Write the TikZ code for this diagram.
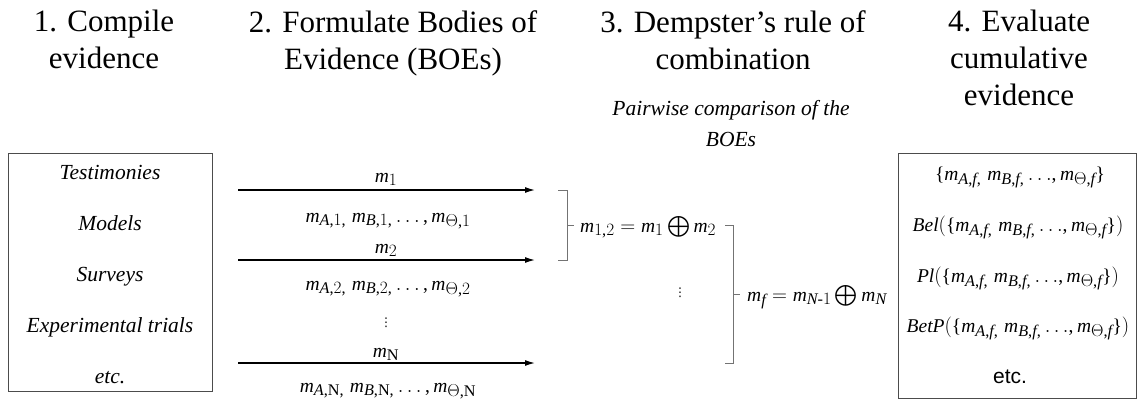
\documentclass[tikz,border=0pt]{standalone}
\usepackage{amsmath}
\usepackage{fontspec}
\setmainfont{Liberation Serif}
\newfontfamily\arialfont{Liberation Sans}
\newfontfamily\dejavu{DejaVu Sans}
\usepackage[italic]{mathastext}
\usetikzlibrary{arrows.meta}
\newcommand{\cumset}{\{m_{A,f,}\; m_{B,f,}\,{\ldots},m_{\Theta,f}\}}
\newcommand{\boe}[1]{m_{A,#1,}\; m_{B,#1,}\,{\ldots}\,,m_{\Theta,#1}}

\begin{document}
\begin{tikzpicture}[
        x=1pt, y=-1pt,
        heading/.style={anchor=north, align=center, inner sep=0pt, font=\fontsize{31}{37}\selectfont},
        item/.style={anchor=base, inner sep=0pt, font=\fontsize{21.5}{26}\selectfont\itshape},
        mlabel/.style={anchor=base, inner sep=0pt, font=\fontsize{19.5}{24}\selectfont},
        dots/.style={anchor=center, inner sep=0pt, font=\fontsize{12}{14}\selectfont\dejavu},
        evbox/.style={draw=black!70, line width=0.9pt, inner sep=0pt},
        flow/.style={-{Latex[length=10pt,width=6pt]}, line width=1.3pt},
        brace/.style={draw=black!55, line width=0.9pt}
    ]
    \useasboundingbox (0,0) rectangle (1139,401);

    % Headings
    \node[heading] (h1) at (104,10) {1. Compile\\evidence};
    \node[heading] (h2) at (393,10) {2. Formulate Bodies of\\Evidence (BOEs)};
    \node[heading] (h3) at (733,10) {3. Dempster’s rule of\\combination};
    \node[heading] (h4) at (1019,10) {4. Evaluate\\cumulative\\evidence};
    \node[heading, font=\fontsize{21.5}{31}\selectfont\itshape] (h3sub) at (731,100) {Pairwise comparison of the\\BOEs};

    % Left box - sources of evidence
    \node[evbox, minimum width=204pt, minimum height=238pt] (src) at (110,272) {};
    \foreach \txt [count=\i from 0] in {Testimonies, Models, Surveys, Experimental trials, etc.}
        \node[item] (src\i) at (110,{179+51*\i}) {\txt};

    % Bodies of evidence
    \foreach \k/\yy in {1/190, 2/260, N/363} {
        \coordinate (s\k) at (238,\yy);
        \coordinate (e\k) at (535,\yy);
        \draw[flow] (s\k) -- (e\k);
    }
    \node[mlabel] (top1) at (386,182) {$m_1$};
    \node[mlabel] (bot1) at (388,222) {$\boe{1}$};
    \node[mlabel] (top2) at (386,253) {$m_2$};
    \node[mlabel] (bot2) at (388,290) {$\boe{2}$};
    \node[dots] (dotsB) at (386,323) {⋮};
    \node[mlabel] (topN) at (386,357) {$m_\mathrm{N}$};
    \node[mlabel] (botN) at (388,392) {$\boe{\mathrm{N}}$};

    % Combination
    \coordinate (c1t) at (558,190);
    \coordinate (c1b) at (558,260);
    \coordinate (c1m) at (567,225);
    \draw[brace] (c1t) -- ++(9,0) |- (c1b);
    \draw[brace] (c1m) -- ++(7,0) coordinate (c1x);
    \node[mlabel, anchor=base west] (m12) at (580,232) {$m_{1,2} = m_1 \bigoplus m_2$};
    \node[dots] (dotsC) at (680,293) {⋮};
    \coordinate (c2t) at (725,225);
    \coordinate (c2b) at (725,363);
    \coordinate (c2m) at (733,294);
    \draw[brace] (c2t) -- ++(8,0) |- (c2b);
    \draw[brace] (c2m) -- ++(7,0) coordinate (c2x);
    \node[mlabel, anchor=base west] (mf) at (747,301) {$m_f = m_{N\text{-}1} \bigoplus m_N$};

    % Right box - cumulative evidence
    \node[evbox, minimum width=238pt, minimum height=245pt] (res) at (1017,275.5) {};
    \node[mlabel] (res0) at (1020,180) {$\cumset$};
    \node[mlabel] (res1) at (1018,231) {\textit{Bel}$(\cumset)$};
    \node[mlabel] (res2) at (1018,282) {\textit{Pl}$(\cumset)$};
    \node[mlabel] (res3) at (1018,332) {\textit{BetP}$(\cumset)$};
    \node[mlabel, font=\fontsize{21}{25}\selectfont\arialfont] (res4) at (1010,383) {etc.};
\end{tikzpicture}
\end{document}
